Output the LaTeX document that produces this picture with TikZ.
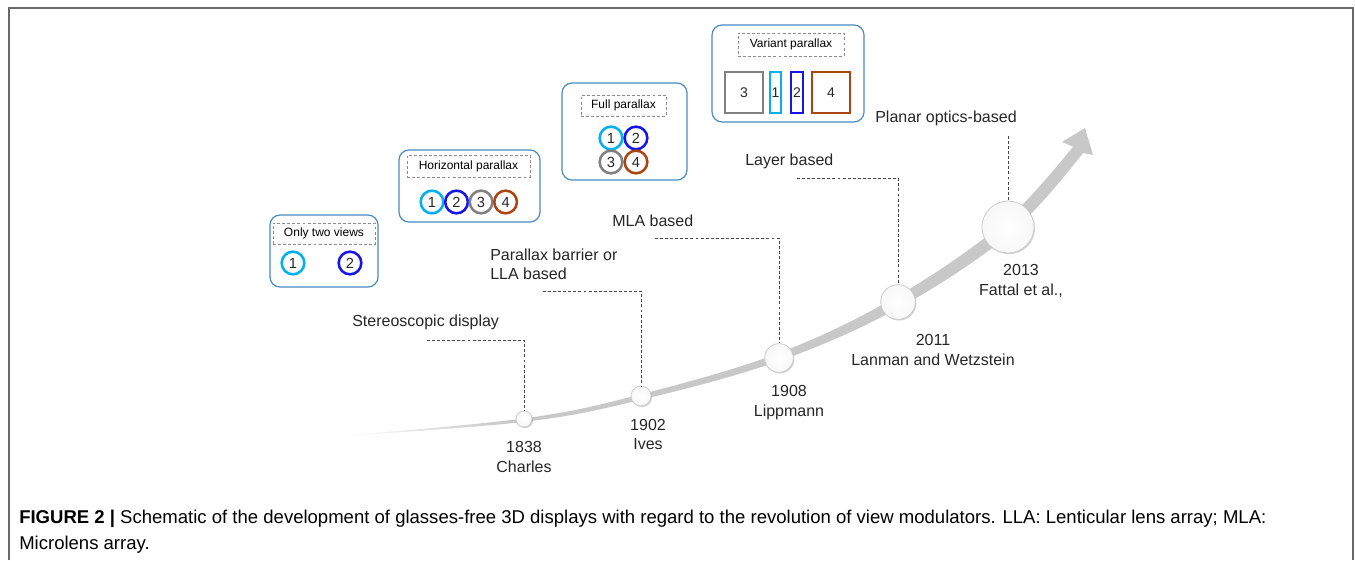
\documentclass[tikz,border=0pt]{standalone}
\usepackage{fontspec}
\setmainfont{Liberation Sans}
\usetikzlibrary{shapes.geometric, arrows.meta, shadows, positioning}

\definecolor{framegray}{RGB}{105,105,105}
\definecolor{boxblue}{RGB}{74,139,192}
\definecolor{viewone}{RGB}{0,176,240}
\definecolor{viewtwo}{RGB}{20,20,235}
\definecolor{viewthree}{RGB}{128,128,128}
\definecolor{viewfour}{RGB}{172,68,18}
\definecolor{trackgray}{RGB}{200,200,200}
\definecolor{leadergray}{RGB}{70,70,70}

\pgfdeclarehorizontalshading{trackshade}{100bp}{color(0bp)=(white); color(25bp)=(white); color(36bp)=(trackgray); color(100bp)=(trackgray)}

\tikzstyle{groupbox} = [rectangle, rounded corners=7.5pt, draw=boxblue, line width=0.9pt, inner sep=0pt]
\tikzstyle{viewtitle} = [rectangle, draw=gray!90, dash pattern=on 2.2pt off 1.6pt, line width=0.7pt, font=\fontsize{9}{11}\selectfont, inner sep=0pt]
\tikzstyle{viewring} = [circle, line width=1.9pt, minimum size=17pt, inner sep=0pt, text=black!85, font=\fontsize{11}{13}\selectfont]
\tikzstyle{viewbar} = [rectangle, line width=1.6pt, minimum height=30.5pt, inner sep=0pt, text=black!85, font=\fontsize{10.5}{13}\selectfont]
\tikzstyle{milestone} = [circle, draw=gray!40, line width=0.6pt, inner sep=0pt, inner color=white, outer color=gray!6, drop shadow={shadow xshift=0.8pt, shadow yshift=-0.9pt, opacity=0.35}]
\tikzstyle{yearlabel} = [align=center, text=black!85]
\tikzstyle{techlabel} = [anchor=west, align=left, text=black!85, inner sep=0pt]
\tikzstyle{leader} = [leadergray, line width=0.7pt, dash pattern=on 2.2pt off 1.6pt]
\tikzstyle{caption} = [anchor=base west, inner sep=0pt, font=\fontsize{13.9}{16}\selectfont]

\begin{document}
\begin{tikzpicture}[x=0.75pt, y=-0.75pt, font=\fontsize{12}{14.5}\selectfont]
\useasboundingbox (0,0) rectangle (1355,560);

% frame
\draw [framegray, line width=1.1pt] (9,560) -- (9,8) -- (1353,8) -- (1353,560);

% timeline track
\shade [shading=trackshade] plot [smooth, tension=0.6] coordinates {(340,435.8) (524.8,418.3) (640.4,394.4) (777.8,353.4) (895.6,297.2) (1003.1,223) (1073,146.7)}
	-- (1062,142) -- (1085,128) -- (1093,155) --
	plot [smooth, tension=0.6] coordinates {(1083,153) (1010.9,233) (900.5,306.9) (780.2,360.6) (641.6,399.6) (525.2,421.7) (340,436.2)} -- cycle;

% milestones
\node (c1838) [milestone, minimum size=12pt] at (524,419) {};
\node (c1902) [milestone, minimum size=15pt] at (641,396) {};
\node (c1908) [milestone, minimum size=21.5pt] at (779,358) {};
\node (c2011) [milestone, minimum size=26pt] at (898,302) {};
\node (c2013) [milestone, minimum size=39pt] at (1008,227) {};

\node (y1838) [yearlabel] at (524,457) {1838\\Charles};
\node (y1902) [yearlabel] at (648,434.5) {1902\\Ives};
\node (y1908) [yearlabel] at (789,402.5) {1908\\Lippmann};
\node (y2011) [yearlabel] at (933,350) {2011\\Lanman and Wetzstein};
\node (y2013) [yearlabel] at (1021,281) {2013\\Fattal et al.,};

% technologies
\node (t1838) [techlabel] at (352,322) {Stereoscopic display};
\node (t1902) [techlabel] at (490,264) {Parallax barrier or\\LLA based};
\node (t1908) [techlabel] at (612,221) {MLA based};
\node (t2011) [techlabel] at (745,161) {Layer based};
\node (t2013) [techlabel] at (875,118) {Planar optics-based};

\coordinate (s1838) at (427,340);
\coordinate (s1902) at (543,291);
\coordinate (s1908) at (655,238);
\coordinate (s2011) at (797,178);
\coordinate (s2013) at (1008,136);
\draw [leader] (s1838) -| (c1838.north);
\draw [leader] (s1902) -| (c1902.north);
\draw [leader] (s1908) -| (c1908.north);
\draw [leader] (s2011) -| (c2011.north);
\draw [leader] (s2013) -- (c2013.north);

% only two views
\node (gtwo) [groupbox, minimum width=81pt, minimum height=54pt] at (324,251) {};
\node (ttwo) [viewtitle, minimum width=76.5pt, minimum height=15.75pt] at (324,233.5) {Only two views};
\node (two1) [viewring, draw=viewone] at (293,263) {1};
\node (two2) [viewring, draw=viewtwo] at (350,263) {2};

% horizontal parallax
\node (ghor) [groupbox, minimum width=105.75pt, minimum height=54pt] at (469.5,186) {};
\node (thor) [viewtitle, minimum width=92.25pt, minimum height=16.5pt] at (468.5,166) {Horizontal parallax};
\node (hor1) [viewring, draw=viewone] at (432,202) {1};
\node (hor2) [viewring, draw=viewtwo, right of=hor1, node distance=18.4pt] {2};
\node (hor3) [viewring, draw=viewthree, right of=hor2, node distance=18.4pt] {3};
\node (hor4) [viewring, draw=viewfour, right of=hor3, node distance=18.4pt] {4};

% full parallax
\node (gful) [groupbox, minimum width=93.75pt, minimum height=72.75pt] at (624.5,131.5) {};
\node (tful) [viewtitle, minimum width=63.75pt, minimum height=15.75pt] at (623.5,105.5) {Full parallax};
\node (ful1) [viewring, draw=viewone] at (611,138) {1};
\node (ful2) [viewring, draw=viewtwo, right of=ful1, node distance=18.75pt] {2};
\node (ful3) [viewring, draw=viewthree, below of=ful1, node distance=18pt] {3};
\node (ful4) [viewring, draw=viewfour, right of=ful3, node distance=18.75pt] {4};

% variant parallax
\node (gvar) [groupbox, minimum width=114pt, minimum height=72.75pt] at (788,73.5) {};
\node (tvar) [viewtitle, minimum width=79.5pt, minimum height=17.25pt] at (791,44.5) {Variant parallax};
\node (var3) [viewbar, draw=viewthree, minimum width=28.5pt] at (744,92.5) {3};
\node (var1) [viewbar, draw=viewone, minimum width=8.6pt] at (775.5,92.5) {1};
\node (var2) [viewbar, draw=viewtwo, minimum width=8.6pt] at (797,92.5) {2};
\node (var4) [viewbar, draw=viewfour, minimum width=28.5pt] at (831,92.5) {4};

% caption
\node (cap1) [caption] at (19,523) {\textbf{FIGURE 2 |} Schematic of the development of glasses-free 3D displays with regard to the revolution of view modulators. LLA: Lenticular lens array; MLA:};
\node (cap2) [caption] at (19,549) {Microlens array.};
\end{tikzpicture}
\end{document}
